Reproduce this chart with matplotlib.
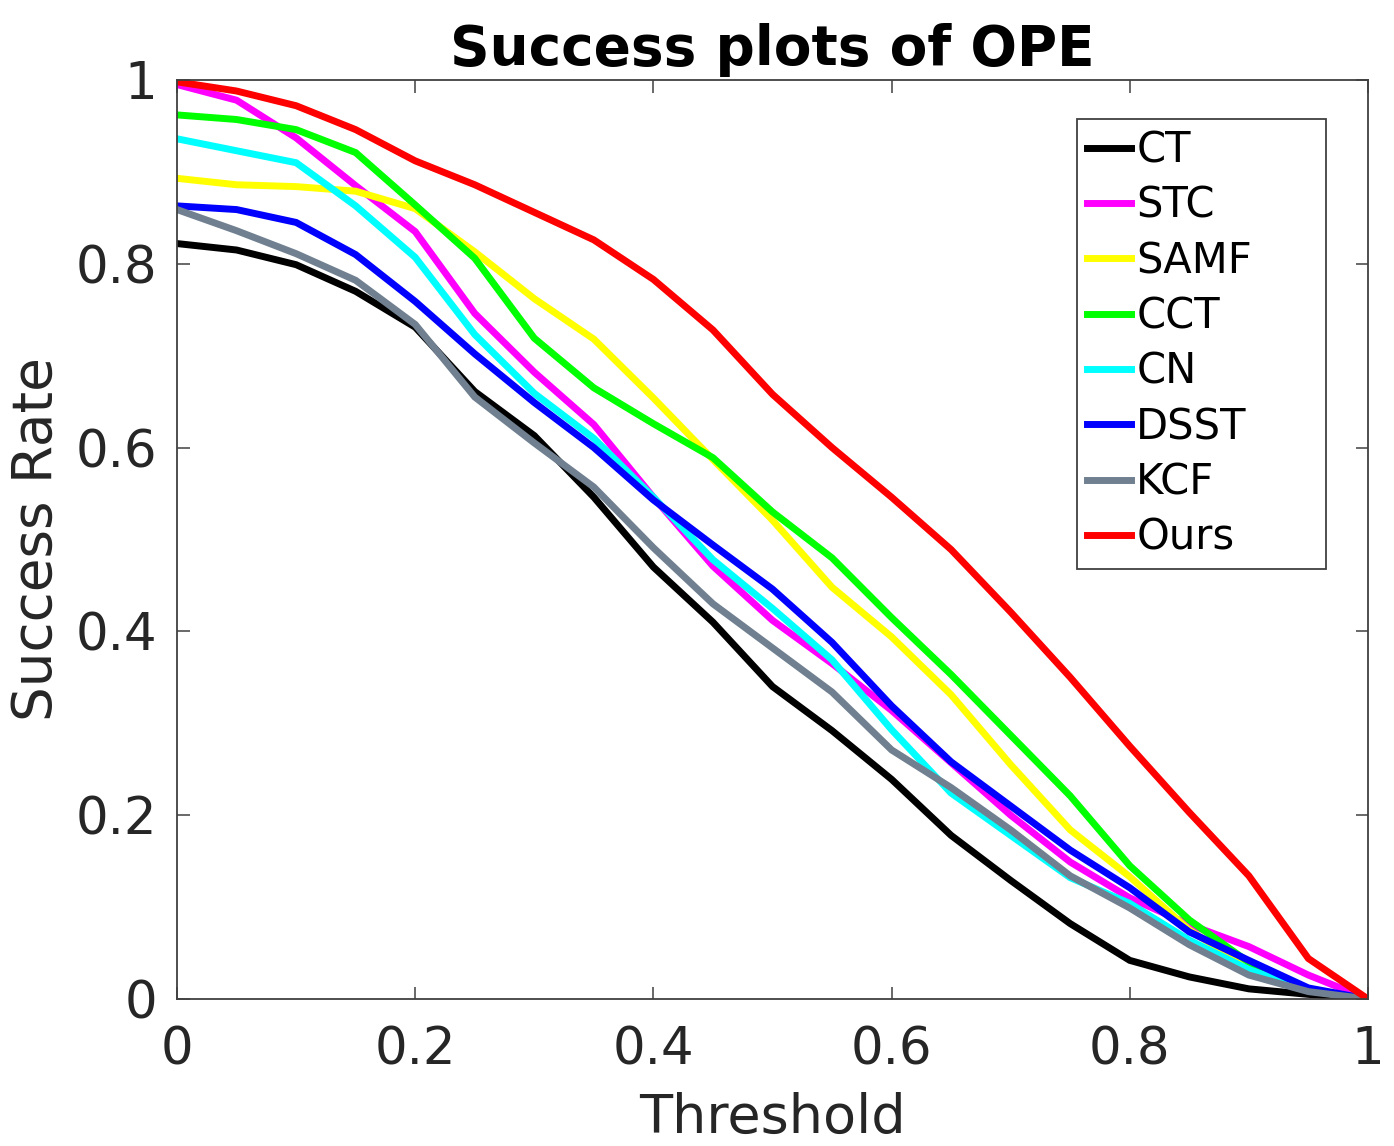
import numpy as np
import matplotlib
matplotlib.use("Agg")
import matplotlib.pyplot as plt

# overlap thresholds 0, 0.05, ..., 1
thresholds = [0.00, 0.05, 0.10, 0.15, 0.20, 0.25, 0.30, 0.35, 0.40, 0.45, 0.50,
              0.55, 0.60, 0.65, 0.70, 0.75, 0.80, 0.85, 0.90, 0.95, 1.00]

ct = [0.822, 0.815, 0.799, 0.770, 0.731, 0.661, 0.613, 0.546, 0.470, 0.410, 0.340,
      0.292, 0.239, 0.178, 0.129, 0.082, 0.042, 0.024, 0.011, 0.005, 0.0]
stc = [0.995, 0.978, 0.937, 0.885, 0.835, 0.746, 0.682, 0.625, 0.546, 0.471, 0.412,
       0.365, 0.314, 0.257, 0.200, 0.149, 0.110, 0.081, 0.057, 0.026, 0.0]
samf = [0.893, 0.886, 0.884, 0.879, 0.860, 0.813, 0.762, 0.718, 0.654, 0.587, 0.521,
        0.448, 0.394, 0.331, 0.255, 0.184, 0.133, 0.075, 0.034, 0.009, 0.0]
cct = [0.962, 0.957, 0.946, 0.921, 0.864, 0.806, 0.719, 0.665, 0.626, 0.589, 0.530,
       0.480, 0.415, 0.353, 0.287, 0.221, 0.145, 0.086, 0.040, 0.010, 0.0]
cn = [0.936, 0.923, 0.910, 0.863, 0.807, 0.723, 0.659, 0.610, 0.546, 0.478, 0.425,
      0.369, 0.293, 0.224, 0.178, 0.132, 0.104, 0.064, 0.032, 0.010, 0.0]
dsst = [0.863, 0.859, 0.845, 0.810, 0.759, 0.702, 0.649, 0.600, 0.543, 0.494, 0.446,
        0.388, 0.319, 0.258, 0.210, 0.162, 0.121, 0.073, 0.042, 0.012, 0.0]
kcf = [0.859, 0.836, 0.811, 0.782, 0.734, 0.655, 0.605, 0.557, 0.491, 0.430, 0.382,
       0.334, 0.271, 0.230, 0.184, 0.134, 0.099, 0.059, 0.026, 0.008, 0.0]
ours = [0.998, 0.988, 0.972, 0.946, 0.912, 0.886, 0.856, 0.826, 0.783, 0.728, 0.658,
        0.600, 0.546, 0.489, 0.421, 0.350, 0.275, 0.203, 0.134, 0.044, 0.0]

names = ["CT", "STC", "SAMF", "CCT", "CN", "DSST", "KCF", "Ours"]
series = [ct, stc, samf, cct, cn, dsst, kcf, ours]
colors = ["#000000", "#ff00ff", "#ffff00", "#00ff00", "#00ffff", "#0000ff",
          "#708090", "#ff0000"]

plt.rcParams["font.family"] = "DejaVu Sans"

fig = plt.figure(figsize=(13.94, 11.46), dpi=100)
ax = fig.add_axes([0.127, 0.1283, 0.8543, 0.8019])

for name, ys, c in zip(names, series, colors):
    ax.plot(thresholds, ys, color=c, linewidth=5, label=name, solid_joinstyle="miter")

ax.set_xlim(0, 1)
ax.set_ylim(0, 1)
ax.set_xticks([0, 0.2, 0.4, 0.6, 0.8, 1])
ax.set_xticklabels(["0", "0.2", "0.4", "0.6", "0.8", "1"])
ax.set_yticks([0, 0.2, 0.4, 0.6, 0.8, 1])
ax.set_yticklabels(["0", "0.2", "0.4", "0.6", "0.8", "1"])

ax.tick_params(axis="both", direction="in", length=9, width=1.1, color="#404040",
               labelsize=37, labelcolor="#262626", top=True, right=True)
ax.tick_params(axis="x", pad=19)
ax.tick_params(axis="y", pad=14)
for sp in ax.spines.values():
    sp.set_color("#404040")
    sp.set_linewidth(1.3)

ax.set_xlabel("Threshold", fontsize=39, color="#262626", labelpad=12)
ax.set_ylabel("Success Rate", fontsize=39.5, color="#262626", labelpad=9)
ax.set_title("Success plots of OPE", fontsize=39.5, fontweight="bold", pad=11)

# legend box spans a fixed width, like the MATLAB one
leg = ax.legend(loc="upper left", bbox_to_anchor=(0.7557, 0.0, 0.209, 0.9576),
                mode="expand", fontsize=30,
                handlelength=1.05, handletextpad=0.12, labelspacing=0.32,
                borderpad=0.25, borderaxespad=0, fancybox=False, framealpha=1,
                edgecolor="#404040")
leg.get_frame().set_linewidth(1.3)

fig.savefig("out.png", dpi=100)
